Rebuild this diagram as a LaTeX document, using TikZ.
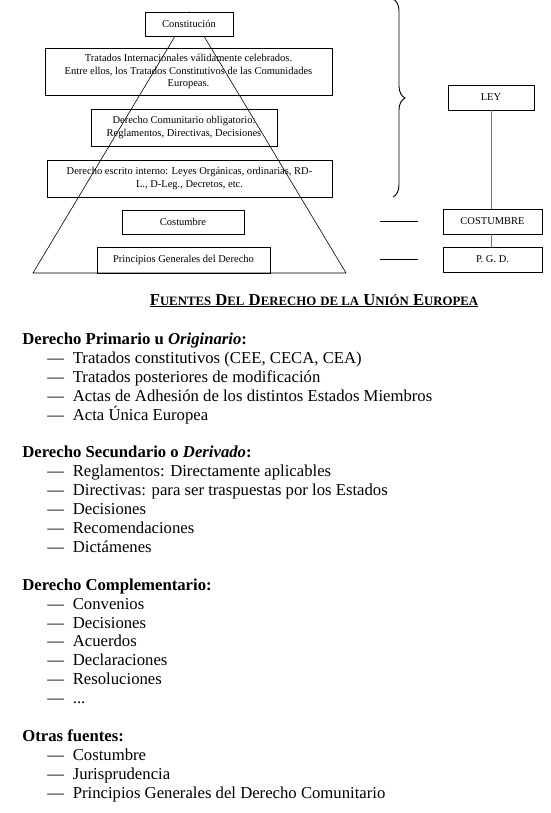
\documentclass[tikz,border=0pt]{standalone}
\usepackage{fontspec}
\setmainfont{Liberation Serif}
\usetikzlibrary{decorations.pathreplacing}

\newcommand{\guion}{\hspace*{25pt}\makebox[25.5pt][l]{---}}
\newcommand{\versal}[1]{{\fontsize{12.8}{15}\selectfont #1}}

\begin{document}
\begin{tikzpicture}[x=1pt, y=-1pt,
					line width=0.7pt,
					%>=stealth',
					caja/.style={draw, inner sep=1pt, align=center,
					             font=\fontsize{10.5}{12.3}\selectfont},
					linea/.style={anchor=base west, inner sep=0pt,
					              font=\fontsize{16.7}{18.9}\selectfont}]

  \useasboundingbox (0,0) rectangle (550,813);

  % piramide
  \node[caja, minimum width=287pt, minimum height=47pt] (tratados) at (188.5,71.5)
    {Tratados Internacionales válidamente celebrados.\\
     Entre ellos, los Tratados Constitutivos de las Comunidades\\
     Europeas.};
  \node[caja, minimum width=186pt, minimum height=37pt] (comunit) at (184,127.5)
    {Derecho Comunitario obligatorio:\\ Reglamentos, Directivas, Decisiones};
  \node[caja, minimum width=285pt, minimum height=37pt] (interno) at (189.5,178.5)
    {Derecho escrito interno: Leyes Orgánicas, ordinarias, RD-\\
     L., D-Leg., Decretos, etc.};
  \node[caja, minimum width=122pt, minimum height=24pt] (costumbre) at (183,222) {Costumbre};
  \node[caja, minimum width=173pt, minimum height=26pt] (principios) at (183.5,260)
    {Principios Generales del Derecho};

  \coordinate (cima) at (189.5,12);
  \coordinate (baseizq) at (33,273);
  \coordinate (baseder) at (346,273);
  \draw[line width=0.6pt] (cima) -- (baseizq) -- (baseder) -- cycle;

  \node[caja, fill=white, minimum width=88pt, minimum height=24pt] (constitucion) at (189,24)
    {Constitución};

  % fuentes
  \draw[decorate, decoration={brace, amplitude=12pt}, line width=0.9pt]
    (393,-1) -- (393,197);

  \node[caja, minimum width=86pt, minimum height=25pt] (ley) at (491,97.5) {LEY};
  \node[caja, minimum width=99pt, minimum height=25pt] (costD) at (492.5,221.5) {COSTUMBRE};
  \node[caja, minimum width=99pt, minimum height=25pt] (pgd) at (492.5,259.5) {P. G. D.};

  \path[draw=black!55, line width=0.9pt]
    (ley.south) -- (ley.south |- costD.north)
    (ley.south |- costD.south) -- (ley.south |- pgd.north);

  \coordinate (guiaC) at ([xshift=-63pt]costD.west);
  \coordinate (guiaP) at ([xshift=-63pt]pgd.west);
  \draw (guiaC) -- ([xshift=-25pt]costD.west);
  \draw (guiaP) -- ([xshift=-25pt]pgd.west);

  % texto
  \node[anchor=base, inner sep=0pt, font=\fontsize{16.7}{18}\selectfont\bfseries] (titulo) at (314,305)
    {\underline{F\versal{UENTES} D\versal{EL} D\versal{ERECHO} \versal{DE LA} U\versal{NIÓN} E\versal{UROPEA}}};

  \foreach \k/\txt in {
      0/{\textbf{Derecho Primario u \textit{Originario}:}},
      1/{\guion Tratados constitutivos (CEE, CECA, CEA)},
      2/{\guion Tratados posteriores de modificación},
      3/{\guion Actas de Adhesión de los distintos Estados Miembros},
      4/{\guion Acta Única Europea},
      6/{\textbf{Derecho Secundario o \textit{Derivado}:}},
      7/{\guion Reglamentos: Directamente aplicables},
      8/{\guion Directivas: para ser traspuestas por los Estados},
      9/{\guion Decisiones},
      10/{\guion Recomendaciones},
      11/{\guion Dictámenes},
      13/{\textbf{Derecho Complementario:}},
      14/{\guion Convenios},
      15/{\guion Decisiones},
      16/{\guion Acuerdos},
      17/{\guion Declaraciones},
      18/{\guion Resoluciones},
      19/{\guion ...},
      21/{\textbf{Otras fuentes:}},
      22/{\guion Costumbre},
      23/{\guion Jurisprudencia},
      24/{\guion Principios Generales del Derecho Comunitario}}
    \node[linea] (l\k) at (22,{344.5+18.9*\k}) {\txt};
\end{tikzpicture}
\end{document}
